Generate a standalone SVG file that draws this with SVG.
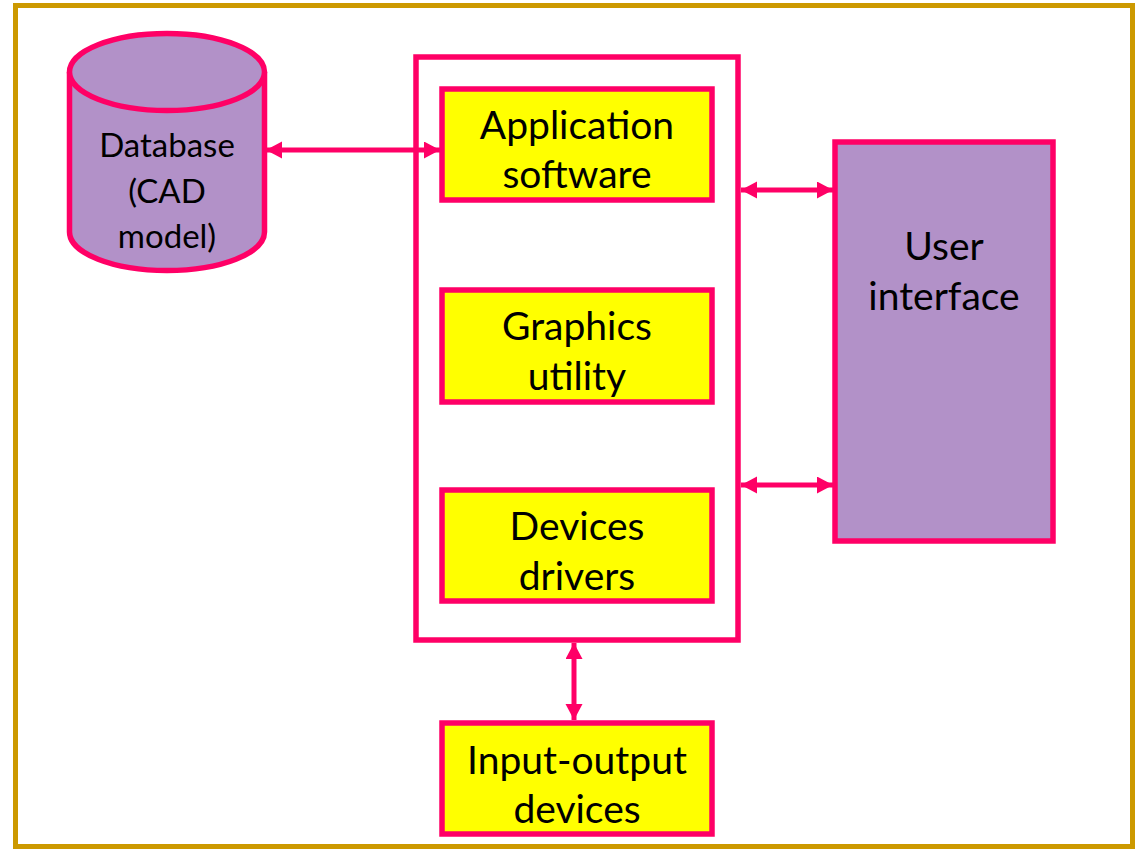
<svg xmlns="http://www.w3.org/2000/svg" width="1136" height="849" viewBox="0 0 1136 849">
<defs>
<style>
.frame{fill:#FFFFFF;stroke:#CC9900;stroke-width:5}
.box{fill:#FFFF00;stroke:#FF0066;stroke-width:5.5}
.purple{fill:#B291C8;stroke:#FF0066;stroke-width:5.5}
.outer{fill:none;stroke:#FF0066;stroke-width:5.5}
.conn{stroke:#FF0066;stroke-width:5;fill:none;marker-start:url(#ah);marker-end:url(#ah)}
text{font-family:Lato,"Open Sans","Liberation Sans",sans-serif;fill:#000;text-anchor:middle}
.t{font-size:39px}
.ts{font-size:33px}
</style>
<marker id="ah" markerUnits="userSpaceOnUse" markerWidth="18" markerHeight="18" refX="16" refY="8.5" orient="auto-start-reverse">
<path d="M0,0 L16,8.5 L0,17 Z" fill="#FF0066"/>
</marker>
</defs>
<rect class="frame" x="15.5" y="5.5" width="1117" height="841"/>
<g id="database">
<path class="purple" d="M69.5,72 A97.5,38.5 0 0 1 264.5,72 L264.5,232 A97.5,38.5 0 0 1 69.5,232 Z"/>
<path class="purple" d="M69.5,72 A97.5,38.5 0 0 0 264.5,72" fill="none"/>
<text class="ts" x="167" y="157">Database</text>
<text class="ts" x="167" y="203">(CAD</text>
<text class="ts" x="167" y="248">model)</text>
</g>
<g id="software-container">
<rect class="outer" x="416" y="57" width="322" height="583"/>
</g>
<g id="application-software">
<rect class="box" x="442" y="89" width="270" height="111"/>
<text class="t" x="577" y="139">Application</text>
<text class="t" x="577" y="188">software</text>
</g>
<g id="graphics-utility">
<rect class="box" x="442" y="290" width="270" height="112"/>
<text class="t" x="577" y="340">Graphics</text>
<text class="t" x="577" y="390">utility</text>
</g>
<g id="devices-drivers">
<rect class="box" x="442" y="490" width="270" height="111"/>
<text class="t" x="577" y="540">Devices</text>
<text class="t" x="577" y="590">drivers</text>
</g>
<g id="input-output-devices">
<rect class="box" x="442" y="723" width="270" height="111"/>
<text class="t" x="577" y="774">Input-output</text>
<text class="t" x="577" y="823">devices</text>
</g>
<g id="user-interface">
<rect class="purple" x="835" y="142" width="218" height="399"/>
<text class="t" x="944" y="260">User</text>
<text class="t" x="944" y="310">interface</text>
</g>
<g id="connectors">
<line class="conn" x1="266" y1="150" x2="440" y2="150"/>
<line class="conn" x1="741" y1="190" x2="833" y2="190"/>
<line class="conn" x1="741" y1="485" x2="833" y2="485"/>
<line class="conn" x1="574" y1="643" x2="574" y2="720"/>
</g>
</svg>
